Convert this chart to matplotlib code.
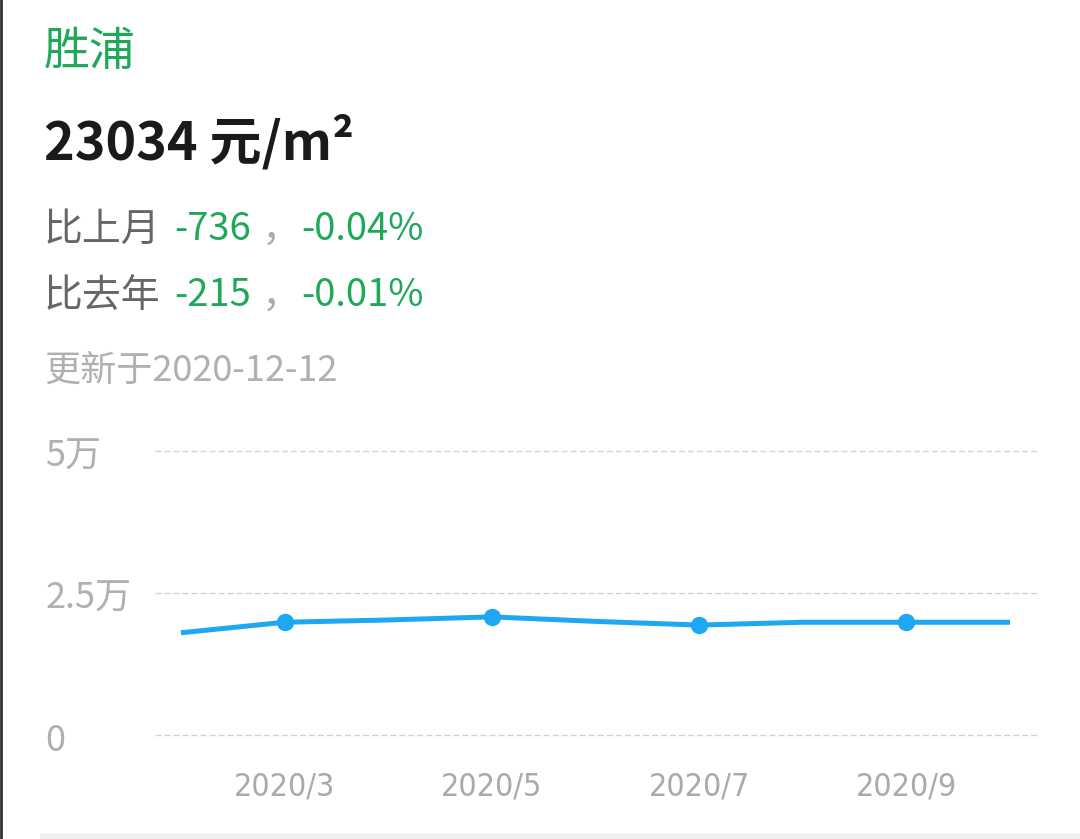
import matplotlib
matplotlib.use('Agg')
import matplotlib.pyplot as plt
from matplotlib import font_manager
from matplotlib.transforms import ScaledTranslation

plt.rcParams['font.family'] = ['Noto Sans CJK SC', 'DejaVu Sans']

# header info
area_name = '胜浦'
price_text = '23034 元/m²'
mom_change = '-736'
mom_pct = '-0.04%'
yoy_change = '-215'
yoy_pct = '-0.01%'
update_text = '更新于2020-12-12'

# monthly series (month index within 2020)
months = [2, 3, 4, 5, 6, 7, 8, 9, 10]
prices = [18000, 19850, 20250, 20800, 20000, 19350, 19850, 19850, 19850]
marker_months = [3, 5, 7, 9]
xtick_labels = ['2020/3', '2020/5', '2020/7', '2020/9']
yticks = [0, 25000, 50000]
ytick_labels = ['0', '2.5万', '5万']

W, H = 1080, 839
fig = plt.figure(figsize=(W / 100, H / 100), dpi=100)
fig.patch.set_facecolor('white')

def fx(px):
    return px / W

def fy(py):
    return 1 - py / H

green = '#1fa85a'
gray = '#666666'
light = '#b0b0b0'

fig.text(fx(44), fy(52), area_name, color=green, fontsize=33, va='center', ha='left')
fig.text(fx(44), fy(143), price_text, color='#1a1a1a', fontsize=37.5, fontweight='bold',
         va='center', ha='left')

for row_y, label, chg, pct in [(230, '比上月', mom_change, mom_pct),
                               (296, '比去年', yoy_change, yoy_pct)]:
    fig.text(fx(44), fy(row_y), label, color=gray, fontsize=28, va='center', ha='left')
    fig.text(fx(174), fy(row_y), chg, color=green, fontsize=27.5, va='center', ha='left')
    fig.text(fx(262), fy(row_y), '，', color='#aaaaaa', fontsize=28, va='center', ha='left')
    fig.text(fx(301), fy(row_y), pct, color=green, fontsize=27.5, va='center', ha='left')

fig.text(fx(44), fy(371), update_text, color=light, fontsize=26, va='center', ha='left')

# chart area
ax = fig.add_axes([fx(155), fy(735), fx(1038) - fx(155), fy(451) - fy(735)])
ax.set_facecolor('none')
ax.plot(months, prices, color='#1ea7f2', linewidth=3.6, solid_capstyle='butt', zorder=3)
mk = [p for m, p in zip(months, prices) if m in marker_months]
ax.plot(marker_months, mk, 'o', color='#1ea7f2', markersize=11.5, zorder=4)

ax.set_xlim(1.75, 10.27)
ax.set_ylim(0, 50000)
for s in ax.spines.values():
    s.set_visible(False)

ax.set_yticks(yticks)
ax.set_yticklabels(ytick_labels)
ax.grid(axis='y', color='#d2d2d2', linestyle=(0, (4.3, 2.2)), linewidth=1)
ax.grid(axis='x', visible=False)
for gl in ax.get_ygridlines():
    gl.set_clip_on(False)
ax.tick_params(axis='y', length=0, pad=79, labelsize=26, labelcolor=light)
off = ScaledTranslation(0, -2 / 100, fig.dpi_scale_trans)
for lab in ax.get_yticklabels():
    lab.set_horizontalalignment('left')
    lab.set_transform(lab.get_transform() + off)

# the date labels use a narrow face; look for one that is installed
narrow = None
for f in font_manager.fontManager.ttflist:
    if f.fname.endswith('DejaVuSansCondensed.ttf'):
        narrow = f.fname
        break
ax.set_xticks(marker_months)
if narrow:
    fp = font_manager.FontProperties(fname=narrow, size=23)
else:
    fp = font_manager.FontProperties(family='Liberation Sans', size=23)
ax.set_xticklabels(xtick_labels, fontproperties=fp)
ax.tick_params(axis='x', length=0, pad=26, labelcolor='#aaaaaa')

# frame decorations
fig.add_artist(plt.Line2D([fx(1), fx(1)], [0, 1], color='#333333', linewidth=2))
fig.add_artist(plt.Line2D([fx(43), 1], [fy(836), fy(836)], color='#eeeeee', linewidth=4))

fig.savefig('out.png', dpi=100, facecolor='white')
